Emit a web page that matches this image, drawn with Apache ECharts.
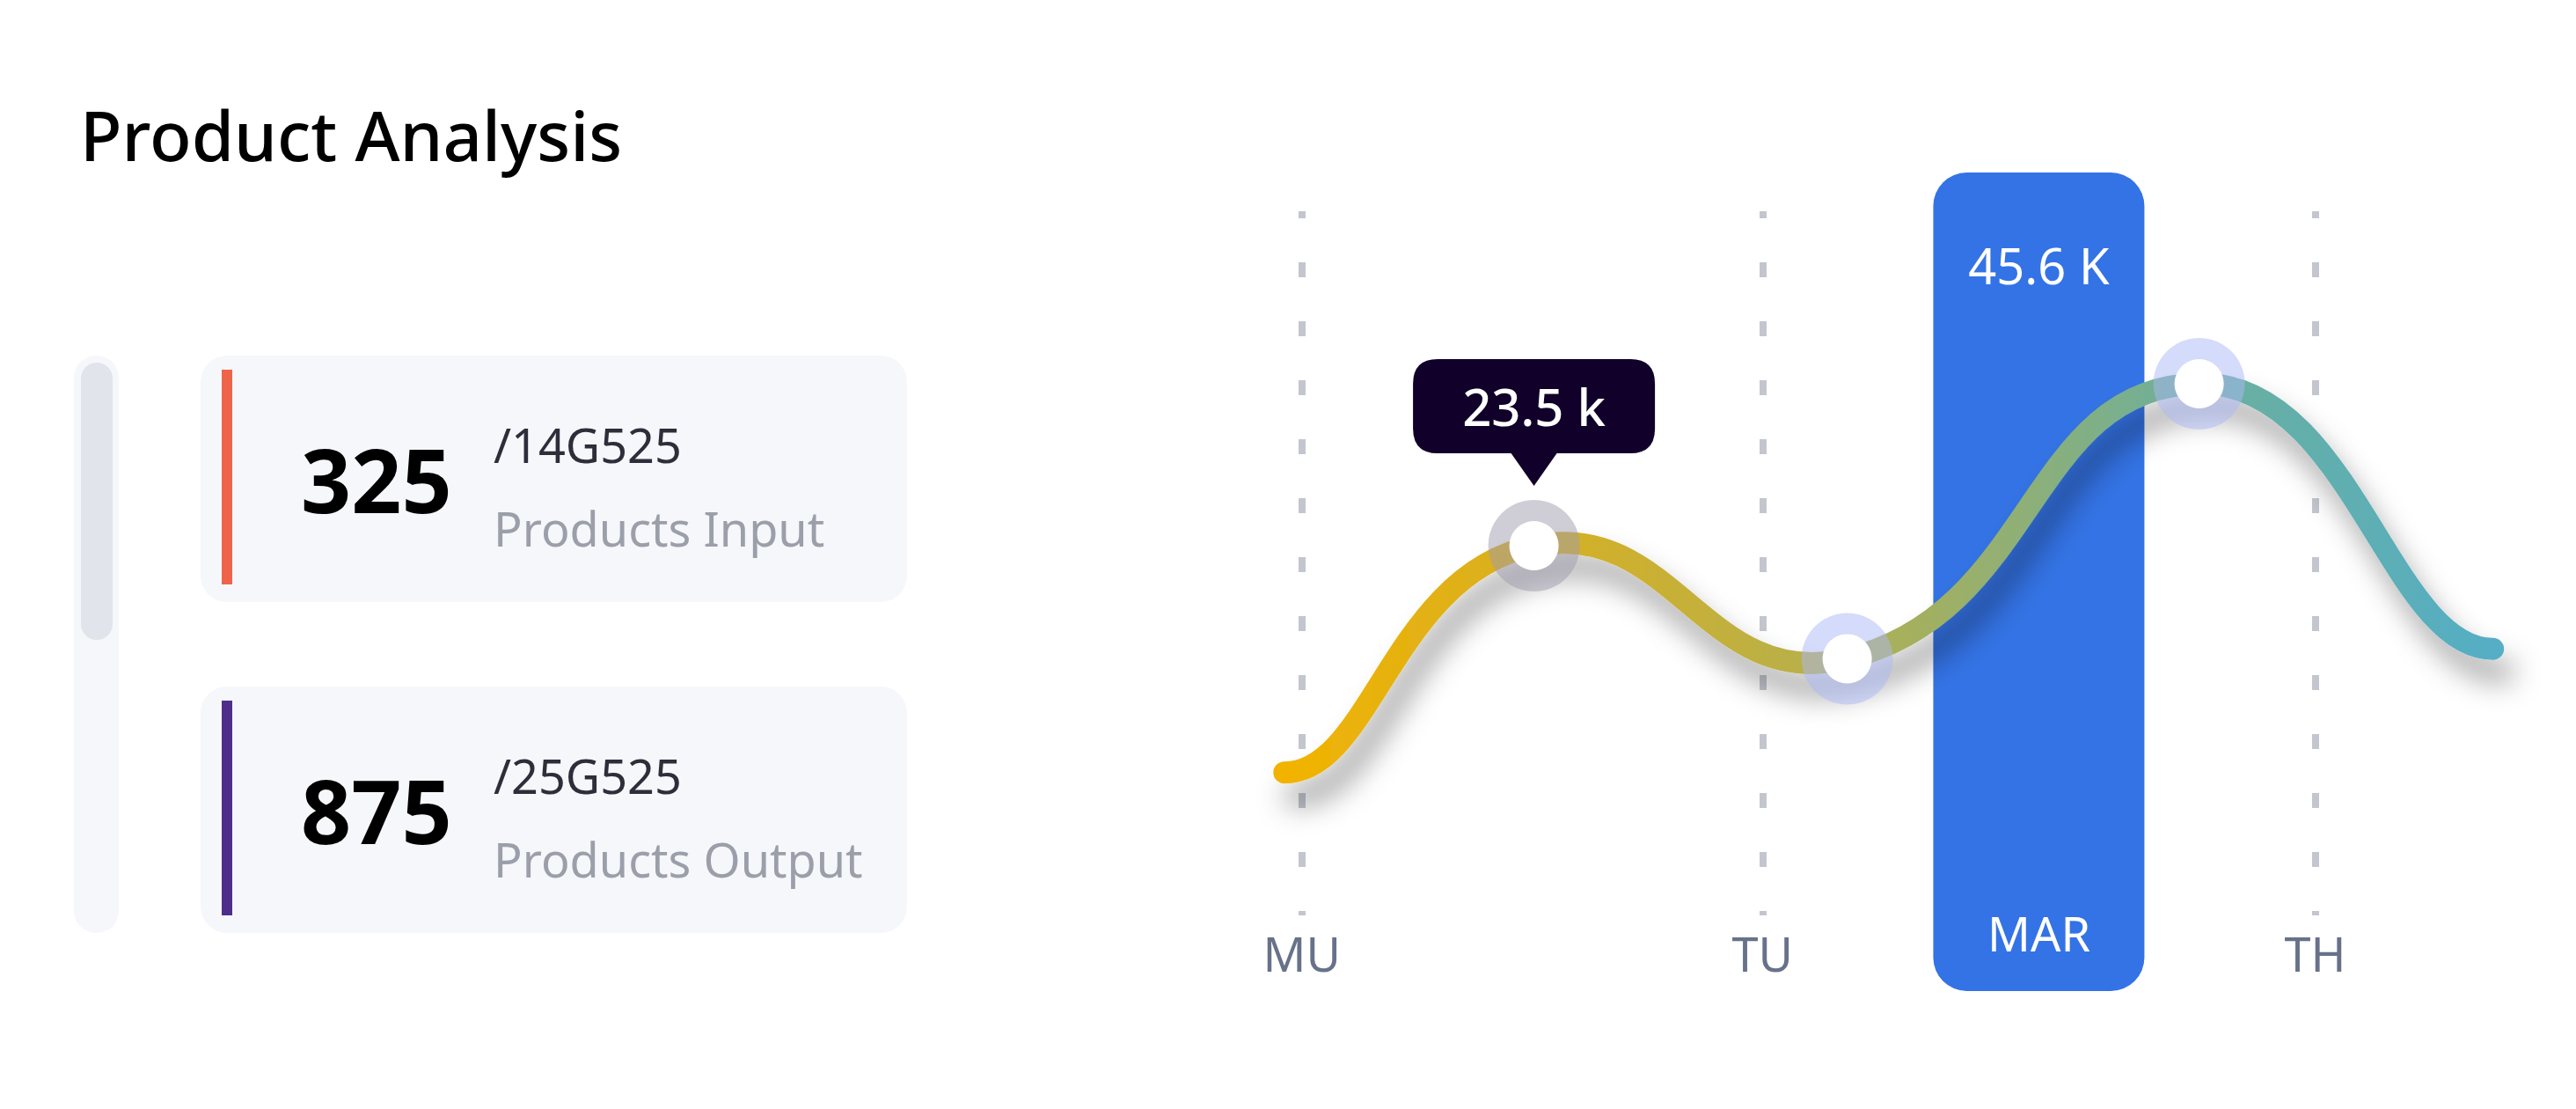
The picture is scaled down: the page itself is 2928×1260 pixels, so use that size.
<!DOCTYPE html>
<html>
<head>
<meta charset="utf-8">
<title>Product Analysis</title>
<script src="https://cdn.jsdelivr.net/npm/echarts/dist/echarts.min.js"></script>
<style>
  html, body { margin: 0; padding: 0; background: #fff; }
  #chart { width: 2928px; height: 1260px; }
</style>
</head>
<body>
<div id="chart"></div>
<script>
// data
const title = 'Product Analysis';
const cardValues = ['325', '875'];
const cardTotals = ['/14G525', '/25G525'];
const cardLabels = ['Products Input', 'Products Output'];

const xLabels = ['MU', 'TU', 'MAR', 'TH'];
const xLabelPos = [0, 5, 8, 11];
const highlightLabel = 'MAR';
const highlightValue = '45.6 K';

const lineX = [-0.19, 2.52, 5.92, 9.74, 12.93];
const lineY = [26.7, 54.4, 40.6, 74.2, 41.8];
const markerIndex = [1, 2, 3];
const tooltipIndex = 1;
const tooltipText = '23.5 k';

const xMin = -1;
const xMax = 13;
const yMax = 100;

// styles
const FONT = 'Noto Sans';
const cardColors = ['#ee644b', '#4f2e8b'];
const haloColors = ['rgba(159,155,173,0.5)', 'rgba(171,183,245,0.5)', 'rgba(171,183,245,0.5)'];
const SMOOTH = 0.5;      // interior points
const END_HANDLE = 0.35; // flat ends

const chart = echarts.init(document.getElementById('chart'), null, { renderer: 'svg' });

// category slots so the dashed lines / labels sit on the same scale as the line
const slots = [];
for (let v = xMin; v <= xMax; v++) {
  const i = xLabelPos.indexOf(v);
  slots.push(i >= 0 ? xLabels[i] : '');
}
const highlightPos = xLabelPos[xLabels.indexOf(highlightLabel)];
const linePoints = lineX.map((x, i) => [x, lineY[i]]);

// smooth path through the points, level at both ends
function smoothPath(pts) {
  const n = pts.length;
  const cpIn = [], cpOut = [];
  for (let i = 0; i < n; i++) {
    const p = pts[i];
    if (i === 0) {
      cpOut[i] = [p[0] + (pts[1][0] - p[0]) * END_HANDLE, p[1]];
      continue;
    }
    if (i === n - 1) {
      cpIn[i] = [p[0] - (p[0] - pts[i - 1][0]) * END_HANDLE, p[1]];
      continue;
    }
    const prev = pts[i - 1], next = pts[i + 1];
    const vx = next[0] - prev[0], vy = next[1] - prev[1];
    const lp = Math.hypot(p[0] - prev[0], p[1] - prev[1]);
    const ln = Math.hypot(next[0] - p[0], next[1] - p[1]);
    const r = ln / (lp + ln);
    cpIn[i] = [p[0] - vx * SMOOTH * (1 - r), p[1] - vy * SMOOTH * (1 - r)];
    cpOut[i] = [p[0] + vx * SMOOTH * r, p[1] + vy * SMOOTH * r];
  }
  let d = `M${pts[0][0]},${pts[0][1]}`;
  for (let i = 1; i < n; i++) {
    d += ` C${cpOut[i - 1][0]},${cpOut[i - 1][1]} ${cpIn[i][0]},${cpIn[i][1]} ${pts[i][0]},${pts[i][1]}`;
  }
  return d;
}

const lineGradient = new echarts.graphic.LinearGradient(0, 0, 1, 0, [
  { offset: 0, color: '#f2b300' },
  { offset: 0.2, color: '#d8b022' },
  { offset: 0.45, color: '#b6b04c' },
  { offset: 0.75, color: '#6caf9c' },
  { offset: 1, color: '#54aec5' }
]);

// left panel
const elements = [
  {
    type: 'text', x: 91, y: 153,
    style: { text: title, fill: '#000', font: `500 78px "${FONT}"`, verticalAlign: 'middle', textVerticalAlign: 'middle' }
  },
  { type: 'rect', shape: { x: 84, y: 404, width: 51, height: 656, r: 25 }, style: { fill: '#f6f7fa' } },
  { type: 'rect', shape: { x: 92, y: 412, width: 36, height: 315, r: 18 }, style: { fill: '#e1e4ea' } }
];
const cardTop = [404, 780];
cardValues.forEach((val, i) => {
  const t = cardTop[i];
  elements.push(
    { type: 'rect', shape: { x: 228, y: t, width: 803, height: 280, r: 30 }, style: { fill: '#f6f7fb' } },
    { type: 'rect', shape: { x: 252, y: t + 16, width: 12, height: 244 }, style: { fill: cardColors[i] } },
    {
      type: 'text', x: 342, y: t + 140,
      style: { text: val, fill: '#000', font: `bold 100px "${FONT}"`, verticalAlign: 'middle', textVerticalAlign: 'middle' }
    },
    {
      type: 'text', x: 561, y: t + 101,
      style: { text: cardTotals[i], fill: '#2c2f3a', font: `54px "${FONT}"`, verticalAlign: 'middle', textVerticalAlign: 'middle' }
    },
    {
      type: 'text', x: 561, y: t + 196,
      style: { text: cardLabels[i], fill: '#9b9fa9', font: `54px "${FONT}"`, verticalAlign: 'middle', textVerticalAlign: 'middle' }
    }
  );
});

const option = {
  animation: false,
  backgroundColor: '#fff',
  graphic: { elements: elements },
  grid: [
    { left: 1375, right: 87, top: 196, bottom: 134 },
    { left: 1375, right: 87, top: 240, bottom: 220 }
  ],
  xAxis: [
    { type: 'value', gridIndex: 0, min: xMin, max: xMax, show: false },
    {
      type: 'category',
      gridIndex: 1,
      data: slots,
      boundaryGap: false,
      axisLine: { show: false },
      axisTick: { show: false },
      axisLabel: {
        interval: 0,
        margin: 16,
        color: '#67728a',
        fontSize: 54,
        fontFamily: FONT,
        lineHeight: 54,
        formatter: v => (v === highlightLabel ? '' : v)
      },
      splitLine: {
        show: true,
        interval: (index, value) => value !== '' && value !== highlightLabel,
        lineStyle: { color: '#c3c6ce', width: 8, type: [17, 50], dashOffset: 9 }
      }
    }
  ],
  yAxis: [
    { type: 'value', gridIndex: 0, min: 0, max: yMax, show: false },
    { type: 'value', gridIndex: 1, show: false, splitLine: { show: false } }
  ],
  series: [
    {
      type: 'bar',
      xAxisIndex: 0,
      yAxisIndex: 0,
      data: [[highlightPos, yMax]],
      barWidth: 240,
      z: 1,
      itemStyle: { color: '#3473e5', borderRadius: 38 },
      markPoint: {
        symbol: 'circle',
        symbolSize: 1,
        itemStyle: { color: 'rgba(0,0,0,0)' },
        label: { show: true, color: '#fff', fontFamily: FONT, fontSize: 56 },
        data: [
          { coord: [highlightPos, yMax], value: highlightValue, label: { formatter: highlightValue, offset: [0, 105] } },
          { coord: [highlightPos, 0], value: highlightLabel, label: { formatter: highlightLabel, offset: [0, -66], fontSize: 54 } }
        ]
      }
    },
    {
      type: 'custom',
      xAxisIndex: 0,
      yAxisIndex: 0,
      z: 3,
      data: linePoints,
      encode: { x: 0, y: 1 },
      renderItem: (params, api) => {
        if (params.dataIndex !== 0) return null;
        const pts = linePoints.map(p => api.coord(p));
        return {
          type: 'path',
          shape: { pathData: smoothPath(pts) },
          style: {
            fill: null,
            stroke: lineGradient,
            lineWidth: 25,
            lineCap: 'round',
            shadowColor: 'rgba(0,0,0,0.36)',
            shadowBlur: 32,
            shadowOffsetX: 12,
            shadowOffsetY: 26
          }
        };
      }
    },
    {
      type: 'scatter',
      xAxisIndex: 0,
      yAxisIndex: 0,
      z: 4,
      symbolSize: 104,
      data: markerIndex.map((k, i) => ({ value: linePoints[k], itemStyle: { color: haloColors[i], opacity: 1 } }))
    },
    {
      type: 'scatter',
      xAxisIndex: 0,
      yAxisIndex: 0,
      z: 5,
      symbolSize: 56,
      itemStyle: { color: '#fff', opacity: 1 },
      data: markerIndex.map(k => linePoints[k])
    },
    {
      type: 'scatter',
      xAxisIndex: 0,
      yAxisIndex: 0,
      z: 6,
      symbol: 'path://M28,0 L247,0 Q275,0 275,28 L275,79 Q275,107 247,107 L163.5,107 L137.5,144 L111.5,107 L28,107 Q0,107 0,79 L0,28 Q0,0 28,0 Z',
      symbolSize: [275, 144],
      symbolOffset: [0, -140],
      itemStyle: { color: '#10002a', opacity: 1 },
      label: {
        show: true,
        position: 'inside',
        offset: [0, -19],
        formatter: tooltipText,
        color: '#fff',
        fontFamily: FONT,
        fontWeight: 500,
        fontSize: 58
      },
      data: [linePoints[tooltipIndex]]
    }
  ]
};

chart.setOption(option);
</script>
</body>
</html>
